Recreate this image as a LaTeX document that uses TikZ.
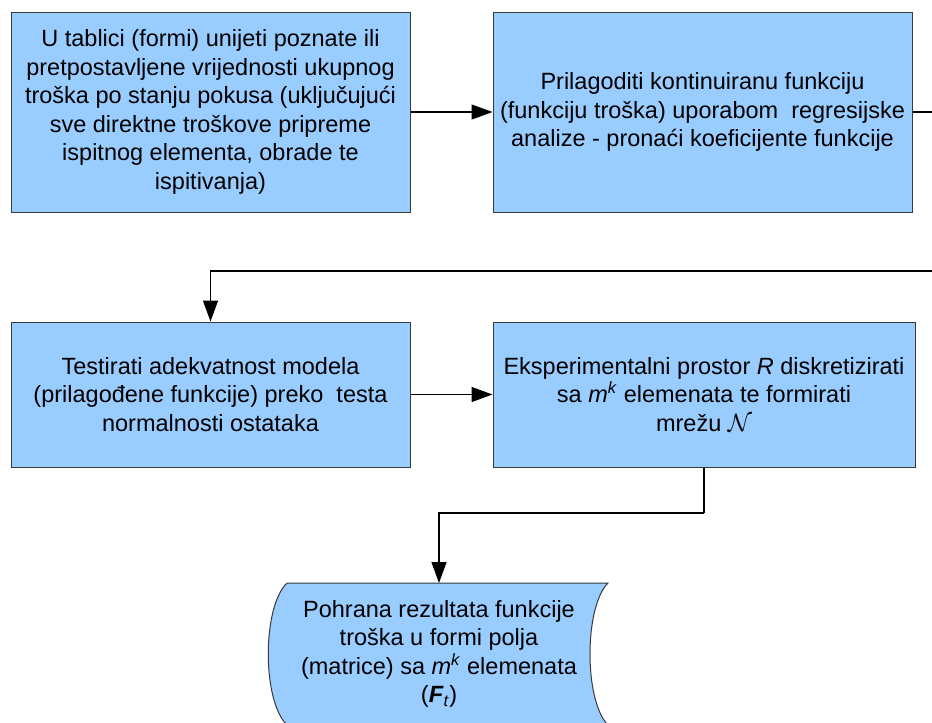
\documentclass[tikz,border=0pt]{standalone}
\usepackage{fontspec}
\setmainfont{Liberation Sans}
\usepackage{amsmath}
\usetikzlibrary{arrows.meta}
\definecolor{boxblue}{HTML}{99CCFF}
\definecolor{boxline}{HTML}{3A3A3A}
\tikzset{
	box/.style={draw=boxline, fill=boxblue, line width=1pt, align=center, font=\fontsize{23.5}{28.5}\selectfont},
	arr/.style={line width=1.3pt, -{Triangle[length=21pt,width=15pt]}},
	ln/.style={line width=1.3pt}
}
\begin{document}
\begin{tikzpicture}[x=1pt,y=-1pt]
		\useasboundingbox (0,0) rectangle (932,723);
		\node[box, minimum width=399pt, minimum height=200pt] (b1) at (210.5,112) {U tablici (formi) unijeti poznate ili\\pretpostavljene vrijednosti ukupnog\\troška po stanju pokusa (uključujući\\sve direktne troškove pripreme\\ispitnog elementa, obrade te\\ispitivanja)};
		\node[box, minimum width=419pt, minimum height=200pt] (b2) at (702.5,112) {Prilagoditi kontinuiranu funkciju\\(funkciju troška) uporabom\ \ regresijske\\analize - pronaći koeficijente funkcije};
		\node[box, minimum width=399pt, minimum height=145pt] (b3) at (210.5,394.5) {Testirati adekvatnost modela\\(prilagođene funkcije) preko\ \ testa\\normalnosti ostataka};
		\node[box, minimum width=422pt, minimum height=145pt] (b4) at (704,394.5) {Eksperimentalni prostor \textit{R} diskretizirati\\sa \textit{m}\textsuperscript{\textit{k}} elemenata te formirati\\mrežu $\mathcal{N}$};
		\coordinate (r1) at (945,112);
		\coordinate (r2) at (945,271);
		\coordinate (d1) at (704,513);
		\coordinate (sttop) at (439,583);
		
		\draw[draw=boxline, fill=boxblue, line width=1pt] (287,583) -- (608,583) .. controls (584,607) and (584,701) .. (608,725) -- (287,725) .. controls (262,701) and (262,607) .. (287,583);
		\node[align=center, font=\fontsize{23.5}{28.5}\selectfont] (st) at (439,654) {Pohrana rezultata funkcije\\troška u formi polja\\(matrice) sa \textit{m}\textsuperscript{\textit{k}} elemenata\\(\textbf{\textit{F}}\textsubscript{\textit{t}})};
		
		\draw[arr] (b1) -- (b2);
		\draw[ln] (b2) -- (r1) -- (r2);
		\draw[arr] (r2) -| (b3);
		\draw[arr] (b3) -- (b4);
		\draw[ln] (b4) -- (d1);
		\draw[arr] (d1) -| (sttop);
		\end{tikzpicture}
\end{document}
